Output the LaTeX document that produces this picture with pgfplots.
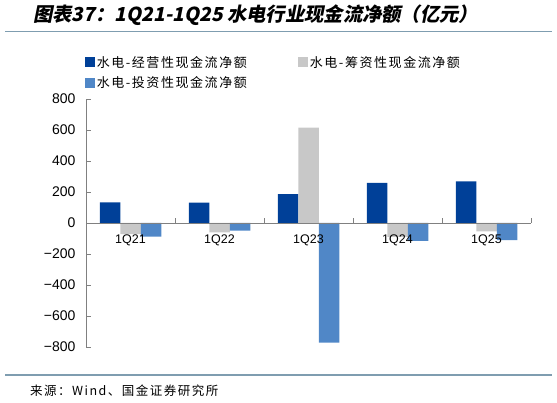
\documentclass[border=0pt]{standalone}
\usepackage{pgfplots}
\pgfplotsset{compat=1.18}
\usepackage{pgfplotstable}
\usepackage{fontspec}
\setmainfont{Liberation Sans}
\newfontfamily\cjk{Noto Sans CJK SC}
\newfontfamily\cjklegend[LetterSpace=12]{Noto Sans CJK SC}
\newfontfamily\titlefont[FakeSlant=0.2]{Noto Sans CJK SC}

\definecolor{opblue}{HTML}{004098}
\definecolor{fingray}{HTML}{C8C8C8}
\definecolor{invblue}{HTML}{5087C7}
\definecolor{rulecol}{HTML}{7F9DB0}
\definecolor{axisgray}{HTML}{808080}

% 经营性 / 筹资性 / 投资性 现金流净额（亿元）
\pgfplotstableread{
idx op  fin  inv
0   133 -72  -88
1   131 -61  -50
2   186 616  -772
3   259 -90  -115
4   269 -54  -111
}\flow

\begin{document}
\begin{tikzpicture}
\useasboundingbox (0pt,0pt) rectangle (557pt,-403pt);

\node[anchor=west, inner sep=0pt] at (33pt,-15pt)
  {\titlefont\bfseries\fontsize{19.3}{21}\selectfont 图表37：1Q21-1Q25 水电行业现金流净额（亿元）};
\draw[rulecol, line width=1.2pt] (5pt,-31.5pt) -- (552pt,-31.5pt);

\begin{axis}[
  at={(86pt,-347pt)}, anchor=south west,
  scale only axis, width=445pt, height=248pt,
  axis on top,
  ybar=0pt, bar width=20.5pt,
  xmin=-0.5, xmax=4.5,
  ymin=-800, ymax=800,
  axis y line*=left, axis x line*=middle,
  axis line style={axisgray, line width=0.8pt},
  tick style={axisgray, line width=0.8pt},
  tick align=inside, major tick length=5pt,
  xtick={-0.5,0.5,...,4.5}, xticklabels={},
  extra x ticks={0,1,2,3,4},
  extra x tick labels={1Q21,1Q22,1Q23,1Q24,1Q25},
  extra x tick style={major tick length=0pt},
  xticklabel style={font=\fontsize{12.5}{14}\selectfont, yshift=-8pt},
  ytick={-800,-600,...,800},
  yticklabels={−800,−600,−400,−200,0,200,400,600,800},
  yticklabel style={font=\fontsize{14}{16}\selectfont, xshift=-7pt},
  legend style={at={(axis description cs:-0.01,1.19)}, anchor=north west,
    draw=none, fill=none, legend columns=2,
    font=\cjklegend\fontsize{13}{15}\selectfont,
    /tikz/every even column/.append style={column sep=49pt},
    row sep=4pt},
  legend cell align=left,
  legend image code/.code={\fill[#1] (0pt,-5pt) rectangle (10pt,5pt);},
]
\addplot[fill=opblue, draw=none] table[x=idx, y=op] {\flow};
\addplot[fill=fingray, draw=none] table[x=idx, y=fin] {\flow};
\addplot[fill=invblue, draw=none] table[x=idx, y=inv] {\flow};
\legend{水电-经营性现金流净额, 水电-筹资性现金流净额, 水电-投资性现金流净额}
\end{axis}

\draw[rulecol, line width=1.2pt] (5pt,-375pt) -- (552pt,-375pt);
\node[anchor=west, inner sep=0pt] at (30pt,-391pt)
  {\cjklegend\fontsize{12.5}{14}\selectfont 来源：Wind、国金证券研究所};
\end{tikzpicture}
\end{document}
